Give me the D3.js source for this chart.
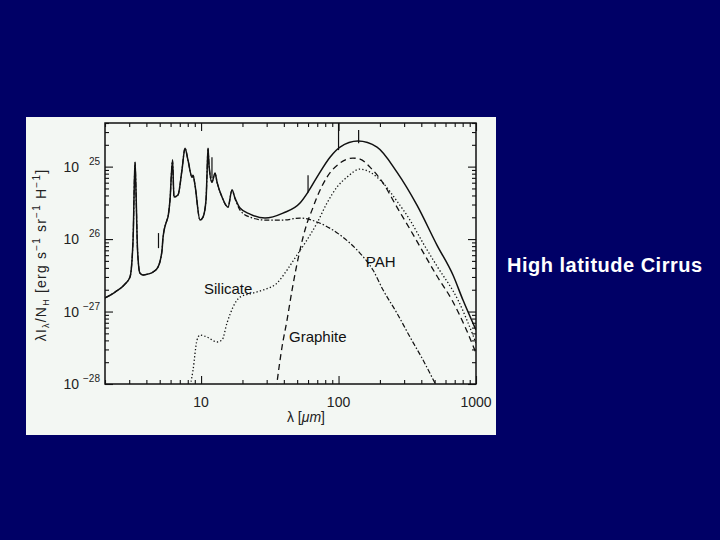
<!DOCTYPE html>
<html>
<head>
<meta charset="utf-8">
<script src="https://cdn.jsdelivr.net/npm/d3@7"></script>
<style>
body { margin: 0; background: #000066; }
svg { display: block; }
text { font-family: "Liberation Sans", Arial, sans-serif; }
</style>
</head>
<body>
<svg width="720" height="540"></svg>
<script>
// wavelengths in micron, lambda*I_lambda/N_H in erg s^-1 sr^-1 H^-1
var totalLambda = [2.0, 2.37, 2.8, 3.04, 3.2, 3.28, 3.31, 3.36, 3.45, 3.59, 3.78, 4.11, 4.47, 4.86, 5.2, 5.28, 5.65, 5.74, 5.94, 6.2, 6.35, 6.79, 7.26, 7.64, 8.03, 8.59, 8.74, 9.03, 9.82, 10.33, 10.86, 11.04, 11.23, 11.42, 12.01, 12.63, 13.06, 14.2, 15.7, 16.79, 17.66, 19.19, 22.7, 29.18, 39.45, 52.44, 59.96, 69.7, 86.7, 102.5, 138.6, 190.5, 266, 372, 520, 680, 804, 1000];
var totalValue = [1.54e-27, 1.86e-27, 2.40e-27, 2.99e-27, 9.7e-27, 7.6e-26, 1.15e-25, 4.74e-26, 7.05e-27, 3.40e-27, 3.19e-27, 3.29e-27, 3.51e-27, 4.11e-27, 7.05e-27, 1.03e-26, 1.83e-26, 2.01e-26, 3.45e-26, 1.23e-25, 3.80e-26, 4.05e-26, 8.95e-26, 1.80e-25, 1.23e-25, 7.16e-26, 7.6e-26, 5.56e-26, 1.83e-26, 2.01e-26, 3.45e-26, 7.6e-26, 1.80e-25, 1.05e-25, 6.11e-26, 8.13e-26, 6.11e-26, 3.80e-26, 2.76e-26, 4.74e-26, 3.68e-26, 2.68e-26, 2.21e-26, 1.95e-26, 2.28e-26, 3.14e-26, 4.45e-26, 7.16e-26, 1.35e-25, 1.86e-25, 2.25e-25, 1.86e-25, 8.4e-26, 2.94e-26, 8.26e-27, 3.19e-27, 1.44e-27, 5.56e-28];

var pahLambda = [2.0, 2.37, 2.8, 3.04, 3.2, 3.28, 3.31, 3.36, 3.45, 3.59, 3.78, 4.11, 4.47, 4.86, 5.2, 5.28, 5.65, 5.74, 5.94, 6.2, 6.35, 6.79, 7.26, 7.64, 8.03, 8.59, 8.74, 9.03, 9.82, 10.33, 10.86, 11.04, 11.23, 11.42, 12.01, 12.63, 13.06, 14.2, 15.7, 16.79, 17.66, 19.19, 22.7, 29.18, 39.45, 52.44, 69.7, 91.1, 121, 143, 178, 211, 266, 331, 412, 503, 560];
var pahValue = [1.54e-27, 1.86e-27, 2.40e-27, 2.99e-27, 9.7e-27, 7.6e-26, 1.15e-25, 4.74e-26, 7.05e-27, 3.40e-27, 3.19e-27, 3.29e-27, 3.51e-27, 4.11e-27, 7.05e-27, 1.03e-26, 1.83e-26, 2.01e-26, 3.45e-26, 1.23e-25, 3.80e-26, 4.05e-26, 8.95e-26, 1.80e-25, 1.23e-25, 7.16e-26, 7.6e-26, 5.56e-26, 1.83e-26, 2.01e-26, 3.45e-26, 7.6e-26, 1.80e-25, 1.05e-25, 6.11e-26, 8.13e-26, 6.11e-26, 3.80e-26, 2.76e-26, 4.74e-26, 3.60e-26, 2.51e-26, 2.01e-26, 1.83e-26, 1.83e-26, 1.95e-26, 1.72e-26, 1.33e-26, 8.8e-27, 6.41e-27, 3.74e-27, 1.98e-27, 9.5e-28, 4.45e-28, 2.14e-28, 1.03e-28, 7e-29];

var graphiteLambda = [35.1, 38.8, 42.2, 45.9, 52.4, 59.0, 64.1, 69.7, 82.4, 102.5, 127.4, 143.3, 169.4, 211, 266, 331, 412, 520, 669, 846, 1000];
var graphiteValue = [8.3e-29, 3.24e-28, 7.63e-28, 1.98e-27, 7.05e-27, 1.66e-26, 2.51e-26, 3.80e-26, 7.16e-26, 1.12e-25, 1.31e-25, 1.27e-25, 9.84e-26, 5.92e-26, 2.76e-26, 1.37e-26, 6.62e-27, 3.09e-27, 1.44e-27, 5.74e-28, 2.67e-28];

var silicateLambda = [8.17, 8.74, 9.34, 9.82, 11.04, 13.06, 14.2, 15.44, 17.07, 19.19, 23.86, 28.2, 35.7, 42.2, 48.2, 57.0, 69.7, 82.4, 97.4, 115.2, 143.3, 169.4, 211, 266, 331, 412, 520, 740, 1000];
var silicateValue = [7.76e-29, 1.56e-28, 4.04e-28, 4.74e-28, 4.45e-28, 3.80e-28, 4.04e-28, 6.94e-28, 1.15e-27, 1.58e-27, 1.80e-27, 1.98e-27, 2.47e-27, 3.74e-27, 5.47e-27, 8.8e-27, 1.66e-26, 3.14e-26, 5.21e-26, 7.16e-26, 9.24e-26, 8.40e-26, 5.92e-26, 3.34e-26, 1.83e-26, 8.8e-27, 4.24e-27, 1.44e-27, 3.68e-28];

// observed band values (vertical bars)
var obsLambda = [4.9, 12, 60, 100, 140];
var obsLow = [7.5e-27, 6.9e-26, 4.4e-26, 1.69e-25, 2.1e-25];
var obsHigh = [1.21e-26, 1.35e-25, 7.6e-26, 4.0e-25, 3.2e-25];

var xTickLabels = [10, 100, 1000];
var yTickValues = [1e-25, 1e-26, 1e-27, 1e-28];
var yTickSup = ["25", "26", "\u221227", "\u221228"];

var curveLabels = [
	{text: "PAH", lambda: 158, value: 4.1e-27},
	{text: "Silicate", lambda: 10.5, value: 1.75e-27},
	{text: "Graphite", lambda: 43.6, value: 3.8e-28}
];

var svg = d3.select("svg"),
	width = +svg.attr("width"),
	height = +svg.attr("height");

svg.append("rect")
	.attr("x", 26).attr("y", 117)
	.attr("width", 470).attr("height", 318)
	.attr("fill", "#f3f7f3");

var x = d3.scaleLog().domain([2, 1000]).range([105, 476]);
var y = d3.scaleLog().domain([1e-28, 4e-25]).range([384, 123]);

svg.append("clipPath").attr("id", "plotclip")
	.append("rect")
	.attr("x", 105).attr("y", 123)
	.attr("width", 371).attr("height", 261);

var line = d3.line()
	.x(function(d) { return x(d[0]); })
	.y(function(d) { return y(d[1]); })
	.curve(d3.curveMonotoneX);

function pairs(a, b) {
	return a.map(function(v, i) { return [v, b[i]]; });
}

var curves = svg.append("g").attr("clip-path", "url(#plotclip)")
	.attr("fill", "none").attr("stroke", "#111");

curves.append("path").attr("d", line(pairs(pahLambda, pahValue)))
	.attr("stroke-width", 1.2).attr("stroke-dasharray", "5,2,1.5,2");
curves.append("path").attr("d", line(pairs(graphiteLambda, graphiteValue)))
	.attr("stroke-width", 1.3).attr("stroke-dasharray", "6,4");
curves.append("path").attr("d", line(pairs(silicateLambda, silicateValue)))
	.attr("stroke-width", 1.3).attr("stroke-dasharray", "1.3,2.2");
curves.append("path").attr("d", line(pairs(totalLambda, totalValue)))
	.attr("stroke-width", 1.5);

curves.selectAll("line.obs")
	.data(obsLambda)
	.enter().append("line")
	.attr("class", "obs")
	.attr("x1", function(d) { return x(d); })
	.attr("x2", function(d) { return x(d); })
	.attr("y1", function(d, i) { return y(obsLow[i]); })
	.attr("y2", function(d, i) { return y(obsHigh[i]); })
	.attr("stroke-width", 1.2);

// frame
svg.append("rect")
	.attr("x", 105).attr("y", 123)
	.attr("width", 371).attr("height", 261)
	.attr("fill", "none").attr("stroke", "#111").attr("stroke-width", 1.5);

function isMajor(v) {
	var m = v / Math.pow(10, Math.floor(Math.log10(v) + 1e-9));
	return Math.abs(m - 1) < 1e-6;
}

// inward ticks, all four sides
var xt = x.ticks(), yt = y.ticks();
[[d3.axisBottom, 384], [d3.axisTop, 123]].forEach(function(s) {
	svg.append("g").attr("transform", "translate(0," + s[1] + ")")
		.call(s[0](x).tickValues(xt.filter(isMajor)).tickSize(-8).tickFormat(""))
		.call(function(g) { g.select(".domain").remove(); });
	svg.append("g").attr("transform", "translate(0," + s[1] + ")")
		.call(s[0](x).tickValues(xt.filter(function(v) { return !isMajor(v); })).tickSize(-4).tickFormat(""))
		.call(function(g) { g.select(".domain").remove(); });
});
[[d3.axisLeft, 105], [d3.axisRight, 476]].forEach(function(s) {
	svg.append("g").attr("transform", "translate(" + s[1] + ",0)")
		.call(s[0](y).tickValues(yt.filter(isMajor)).tickSize(-8).tickFormat(""))
		.call(function(g) { g.select(".domain").remove(); });
	svg.append("g").attr("transform", "translate(" + s[1] + ",0)")
		.call(s[0](y).tickValues(yt.filter(function(v) { return !isMajor(v); })).tickSize(-4).tickFormat(""))
		.call(function(g) { g.select(".domain").remove(); });
});
svg.selectAll(".tick line").attr("stroke", "#111").attr("stroke-width", 1.1);

// tick labels
svg.selectAll("text.xlab")
	.data(xTickLabels)
	.enter().append("text")
	.attr("class", "xlab")
	.attr("x", function(d) { return x(d); })
	.attr("y", 407)
	.attr("text-anchor", "middle")
	.attr("font-size", 14)
	.attr("fill", "#222")
	.text(function(d) { return d; });

var ylab = svg.selectAll("g.ylab")
	.data(yTickValues)
	.enter().append("g")
	.attr("class", "ylab")
	.attr("fill", "#222");
ylab.append("text")
	.attr("x", 79)
	.attr("y", function(d) { return y(d) + 5; })
	.attr("text-anchor", "end")
	.attr("font-size", 14)
	.text("10");
ylab.append("text")
	.attr("x", 100)
	.attr("y", function(d) { return y(d) - 2; })
	.attr("text-anchor", "end")
	.attr("font-size", 10)
	.text(function(d, i) { return yTickSup[i]; });

// axis titles
var xTitle = svg.append("text")
	.attr("x", 306).attr("y", 422)
	.attr("text-anchor", "middle")
	.attr("font-size", 14)
	.attr("fill", "#222");
xTitle.append("tspan").text("\u03bb  [");
xTitle.append("tspan").attr("font-style", "italic").text("\u03bcm");
xTitle.append("tspan").text("]");

var yTitle = svg.append("text")
	.attr("transform", "translate(46,255) rotate(-90)")
	.attr("text-anchor", "middle")
	.attr("font-size", 14)
	.attr("letter-spacing", 1.2)
	.attr("fill", "#222");
yTitle.append("tspan").text("\u03bbI");
yTitle.append("tspan").attr("font-size", 9).attr("dy", 3).text("\u03bb");
yTitle.append("tspan").attr("dy", -3).text("/N");
yTitle.append("tspan").attr("font-size", 9).attr("dy", 3).text("H");
yTitle.append("tspan").attr("dy", -3).text("  [erg  s");
yTitle.append("tspan").attr("font-size", 10).attr("dy", -6).text("\u22121");
yTitle.append("tspan").attr("dy", 6).text("  sr");
yTitle.append("tspan").attr("font-size", 10).attr("dy", -6).text("\u22121");
yTitle.append("tspan").attr("dy", 6).text("  H");
yTitle.append("tspan").attr("font-size", 10).attr("dy", -6).text("\u22121");
yTitle.append("tspan").attr("dy", 6).text("]");

// component names
svg.selectAll("text.curvelab")
	.data(curveLabels)
	.enter().append("text")
	.attr("class", "curvelab")
	.attr("x", function(d) { return x(d.lambda); })
	.attr("y", function(d) { return y(d.value); })
	.attr("font-size", 15)
	.attr("fill", "#111")
	.text(function(d) { return d.text; });

svg.append("text")
	.attr("x", 507).attr("y", 272)
	.attr("font-size", 20)
	.attr("letter-spacing", 0.5)
	.attr("font-weight", "bold")
	.attr("fill", "#ffffff")
	.text("High latitude Cirrus");
</script>
</body>
</html>
